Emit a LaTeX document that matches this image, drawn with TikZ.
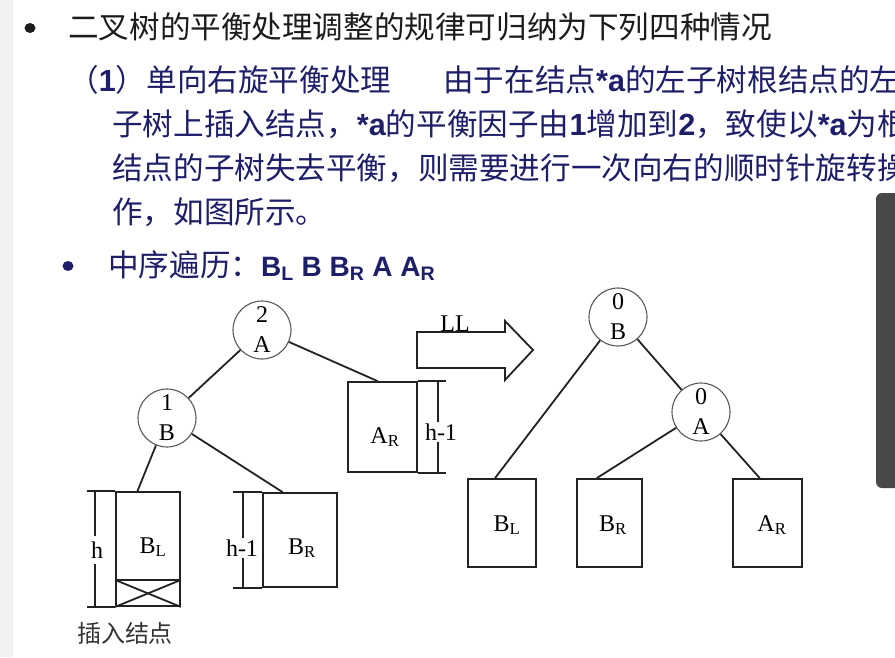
\documentclass[tikz,border=0pt]{standalone}
\usepackage{fontspec}
\setmainfont{Liberation Serif}
\newfontfamily\cjk{Noto Sans CJK SC}
\newfontfamily\lsans{Liberation Sans}
\newcommand\latb[1]{{\lsans\bfseries #1}}
\usetikzlibrary{calc}
\definecolor{navy}{RGB}{30,30,105}
\definecolor{ink}{RGB}{28,28,28}
\definecolor{edge}{RGB}{34,34,34}
\definecolor{scroll}{RGB}{72,72,72}
\definecolor{strip}{RGB}{242,242,242}
\begin{document}
\begin{tikzpicture}[x=1pt,y=-1pt,
  line/.style={draw=edge,line width=1.8pt},
  tnode/.style={circle,draw=black!65,line width=1.1pt,minimum size=58pt,inner sep=0pt,align=center,font=\fontsize{24}{30}\selectfont},
  tbox/.style={draw=edge,line width=1.8pt,inner sep=0pt},
  lab/.style={font=\fontsize{24}{28}\selectfont,inner sep=1pt},
  dimlab/.style={font=\fontsize{24}{28}\selectfont,fill=white,inner sep=2pt},
  body/.style={font=\fontsize{30.6}{36}\selectfont,anchor=base west,inner sep=0pt},
]
\useasboundingbox (0,0) rectangle (895,657);
\clip (0,0) rectangle (895,657);
\fill[strip] (0,0) rectangle (13,657);

% text block
\fill[ink] (30,28) ellipse (5.5 and 5);
\node[body,text=ink] (t1) at (68,38) {\cjk 二叉树的平衡处理调整的规律可归纳为下列四种情况};
\node[body,text=navy] (t2a) at (68,91) {\cjk （\latb{1}）单向右旋平衡处理};
\node[body,text=navy] (t2b) at (443,91) {\cjk 由于在结点\latb{*a}的左子树根结点的左};
\node[body,text=navy] (t3) at (112,135) {\cjk 子树上插入结点，\latb{*a}的平衡因子由\latb{1}增加到\latb{2}，致使以\latb{*a}为根};
\node[body,text=navy] (t4) at (112,179) {\cjk 结点的子树失去平衡，则需要进行一次向右的顺时针旋转操};
\node[body,text=navy] (t5) at (112,223) {\cjk 作，如图所示。};
\fill[navy] (68,266) ellipse (5.5 and 5);
\node[body,text=navy] (t6) at (108,276) {\cjk 中序遍历：\fontsize{28}{34}\selectfont\latb{B\textsubscript{L} B B\textsubscript{R} A A\textsubscript{R}}};

% left tree
\node[tnode] (cA) at (262,330) {2\\A};
\node[tnode] (cB) at (167,418) {1\\B};
\node[tbox,minimum width=69pt,minimum height=90pt] (ARl) at (382.5,427) {};
\node[tbox,minimum width=64pt,minimum height=114pt] (BLl) at (148,549) {};
\node[tbox,minimum width=74pt,minimum height=94pt] (BRl) at (300,540) {};
\node[lab] (lARl) at (385,437) {A\textsubscript{R}};
\node[lab] (lBLl) at (153,547) {B\textsubscript{L}};
\node[lab] (lBRl) at (302,548) {B\textsubscript{R}};

\draw[line] (cA) -- (cB);
\draw[line] (cA) -- ($(ARl.north west)!0.43!(ARl.north east)$);
\draw[line] (cB) -- ($(BLl.north west)!0.34!(BLl.north east)$);
\draw[line] (cB) -- ($(BRl.north west)!0.27!(BRl.north east)$);

% inserted part of BL
\draw[line] ($(BLl.south west)+(0,-27)$) -- ($(BLl.south east)+(0,-27)$);
\draw[line] ($(BLl.south west)+(0,-27)$) -- (BLl.south east);
\draw[line] (BLl.south west) -- ($(BLl.south east)+(0,-27)$);

% dimension marks
\draw[line] (BLl.north west) -- ++(-28,0);
\draw[line] (BLl.south west) -- ++(-28,0);
\draw[line] (95,492) -- (95,606);
\node[dimlab,inner ysep=6pt] (hL) at (97,550) {h};

\draw[line] (BRl.north west) -- ++(-29,0);
\draw[line] (BRl.south west) -- ++(-29,0);
\draw[line] (243,493) -- (243,587);
\node[dimlab] (hR) at (242,548) {h-1};

\draw[line] (ARl.north east) -- ++(28,0);
\draw[line] (ARl.south east) -- ++(28,0);
\draw[line] (438,382) -- (438,472);
\node[dimlab] (hA) at (441,432) {h-1};

\node[font=\cjk\fontsize{24}{28}\selectfont,text=black!80] (ins) at (125,633) {插入结点};

% LL arrow
\draw[line] (417,332) -- (505,332) -- (505,321) -- (533,350) -- (505,380) -- (505,368) -- (417,368) -- cycle;
\node[lab,anchor=base] (ll) at (455,331) {LL};

% right tree
\node[tnode] (rB) at (618,317) {0\\B};
\node[tnode] (rA) at (701,412) {0\\A};
\node[tbox,minimum width=68pt,minimum height=88pt] (BLr) at (502,523) {};
\node[tbox,minimum width=65pt,minimum height=88pt] (BRr) at (609.5,523) {};
\node[tbox,minimum width=69pt,minimum height=88pt] (ARr) at (767.5,523) {};
\node[lab] (lBLr) at (507,525) {B\textsubscript{L}};
\node[lab] (lBRr) at (613,525) {B\textsubscript{R}};
\node[lab] (lARr) at (772,525) {A\textsubscript{R}};

\draw[line] (rB) -- ($(BLr.north west)!0.40!(BLr.north east)$);
\draw[line] (rB) -- (rA);
\draw[line] (rA) -- ($(BRr.north west)!0.31!(BRr.north east)$);
\draw[line] (rA) -- ($(ARr.north west)!0.39!(ARr.north east)$);

% scroll bar
\fill[scroll,rounded corners=6pt] (876,193) rectangle (905,488);
\end{tikzpicture}
\end{document}
